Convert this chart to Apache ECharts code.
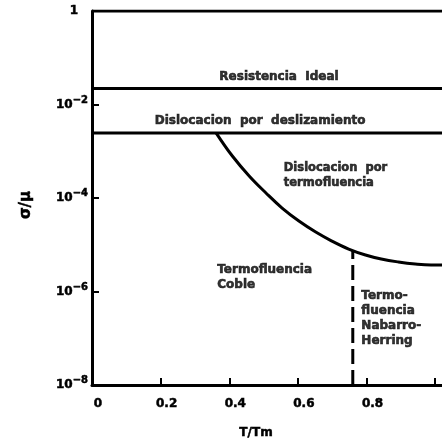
<!DOCTYPE html>
<html>
<head>
<meta charset="utf-8">
<script src="https://cdn.jsdelivr.net/npm/echarts@6/dist/echarts.min.js"></script>
<style>
  html, body { margin: 0; padding: 0; background: #fff; }
  #chart { width: 442px; height: 445px; }
</style>
</head>
<body>
<div id="chart"></div>
<script>
// Mapa de mecanismos de deformacion: tension normalizada frente a T/Tm
const xTicks = [0, 0.2, 0.4, 0.6, 0.8];
const yTicks = [1e-8, 1e-6, 1e-4, 1e-2, 1];

// Limites horizontales
const idealStrength = 0.022;     // Resistencia ideal
const glideLimit = 0.00245;      // Dislocacion por deslizamiento

// Frontera termofluencia por dislocaciones / difusion
const creepT = [0.362, 0.409, 0.458, 0.507, 0.554, 0.603, 0.652, 0.699, 0.748, 0.797, 0.843, 0.893, 0.942, 0.988, 1.02];
const creepS = [2.45e-3, 7.9e-4, 2.96e-4, 1.28e-4, 6.1e-5, 3.22e-5, 1.87e-5, 1.2e-5, 8.1e-6, 6.04e-6, 4.95e-6, 4.28e-6, 3.87e-6, 3.69e-6, 3.69e-6];

// Frontera Coble / Nabarro-Herring
const boundaryT = 0.76;
const boundaryTop = 7.6e-6;

const xMin = 0, xMax = 1.02, yMin = 1e-8, yMax = 1;

// Nombres de las regiones
const regionNames = [
  'Resistencia  Ideal',
  'Dislocacion  por  deslizamiento',
  'Dislocacion  por\ntermofluencia',
  'Termofluencia\nCoble',
  'Termo-\nfluencia\nNabarro-\nHerring'
];
// Anclaje de cada nombre, en coordenadas de los ejes
const regionAnchors = [
  { at: [0.545, 0.039], align: 'center', size: 12 },
  { at: [0.49, 4.4e-3], align: 'center', size: 12 },
  { at: [0.559, 3.1e-4], align: 'left', size: 11.5 },
  { at: [0.365, 2.04e-6], align: 'left', size: 12 },
  { at: [0.785, 2.71e-7], align: 'left', size: 12 }
];

const FONT = 'DejaVu Sans';
const ink = '#000';

function pairs(xs, ys) { return xs.map((x, i) => [x, ys[i]]); }

function lineSeries(data, extra) {
  return Object.assign({
    type: 'line',
    data: data,
    symbol: 'none',
    silent: true,
    lineStyle: { color: ink, width: 3 },
    z: 3
  }, extra || {});
}

const labelSeries = regionNames.map((txt, i) => ({
  type: 'scatter',
  silent: true,
  symbolSize: 0,
  data: [regionAnchors[i].at],
  label: {
    show: true,
    position: 'inside',
    formatter: txt,
    align: regionAnchors[i].align,
    verticalAlign: 'middle',
    fontFamily: FONT,
    fontWeight: 'bold',
    fontSize: regionAnchors[i].size,
    lineHeight: 15,
    color: ink,
    textBorderColor: ink,
    textBorderWidth: 0.6
  },
  z: 5
}));

const chart = echarts.init(document.getElementById('chart'), null, { renderer: 'canvas' });

chart.setOption({
  animation: false,
  backgroundColor: '#fff',
  grid: { left: 92, right: -2, top: 11, bottom: 60, containLabel: false },
  xAxis: {
    type: 'value',
    min: xMin,
    max: xMax,
    interval: 0.2,
    name: 'T/Tm',
    nameLocation: 'middle',
    nameGap: 42,
    nameTextStyle: {
      fontFamily: FONT, fontWeight: 'bold', fontSize: 12, color: ink,
      textBorderColor: ink, textBorderWidth: 0.5, padding: [0, 22, 0, 0]
    },
    axisLine: { show: true, onZero: false, lineStyle: { color: ink, width: 3 } },
    axisTick: { show: true, inside: true, length: 7, lineStyle: { color: ink, width: 2 } },
    axisLabel: {
      margin: 13,
      fontFamily: FONT,
      fontWeight: 'bold',
      fontSize: 12,
      color: ink,
      textBorderColor: ink,
      textBorderWidth: 0.5,
      padding: [0, 0, 0, 12],
      showMaxLabel: false,
      formatter: v => {
        const hit = xTicks.find(t => Math.abs(t - v) < 1e-6);
        if (hit === undefined) return '';
        return hit === 0 ? '0' : hit.toFixed(1);
      }
    },
    splitLine: { show: false }
  },
  yAxis: {
    type: 'log',
    logBase: 10,
    min: yMin,
    max: yMax,
    interval: 2,
    name: 'σ/μ',
    nameLocation: 'middle',
    nameRotate: 90,
    nameGap: 58,
    nameTextStyle: {
      fontFamily: FONT, fontWeight: 'bold', fontSize: 15, color: ink,
      textBorderColor: ink, textBorderWidth: 0.5, padding: [0, 14, 0, 0]
    },
    axisLine: { show: true, lineStyle: { color: ink, width: 3 } },
    axisTick: { show: true, inside: true, length: 7, lineStyle: { color: ink, width: 2 } },
    axisLabel: {
      margin: 4,
      color: ink,
      formatter: v => {
        const e = Math.round(Math.log10(v));
        if (!yTicks.some(t => Math.abs(Math.log10(t) - e) < 1e-6)) return '';
        if (e === 0) return '{one|1}';
        return '{b|10}{s|−' + (-e) + '}';
      },
      rich: {
        one: { fontFamily: FONT, fontWeight: 'bold', fontSize: 12, color: ink, textBorderColor: ink, textBorderWidth: 0.5, padding: [0, 10, 0, 0] },
        b: { fontFamily: FONT, fontWeight: 'bold', fontSize: 12, color: ink, textBorderColor: ink, textBorderWidth: 0.5 },
        s: { fontFamily: FONT, fontWeight: 'bold', fontSize: 10, color: ink, textBorderColor: ink, textBorderWidth: 0.5, padding: [0, 0, 9, 0] }
      }
    },
    splitLine: { show: false },
    minorTick: { show: false }
  },
  series: [
    // marco superior
    lineSeries([[xMin, yMax], [xMax, yMax]]),
    // limites horizontales
    lineSeries([[xMin, idealStrength], [xMax, idealStrength]]),
    lineSeries([[xMin, glideLimit], [xMax, glideLimit]]),
    // frontera curva
    lineSeries(pairs(creepT, creepS), { smooth: 0.4 }),
    // frontera discontinua
    lineSeries([[boundaryT, yMin], [boundaryT, boundaryTop]], {
      lineStyle: { color: ink, width: 3, type: [15, 6] }
    })
  ].concat(labelSeries)
});
</script>
</body>
</html>
